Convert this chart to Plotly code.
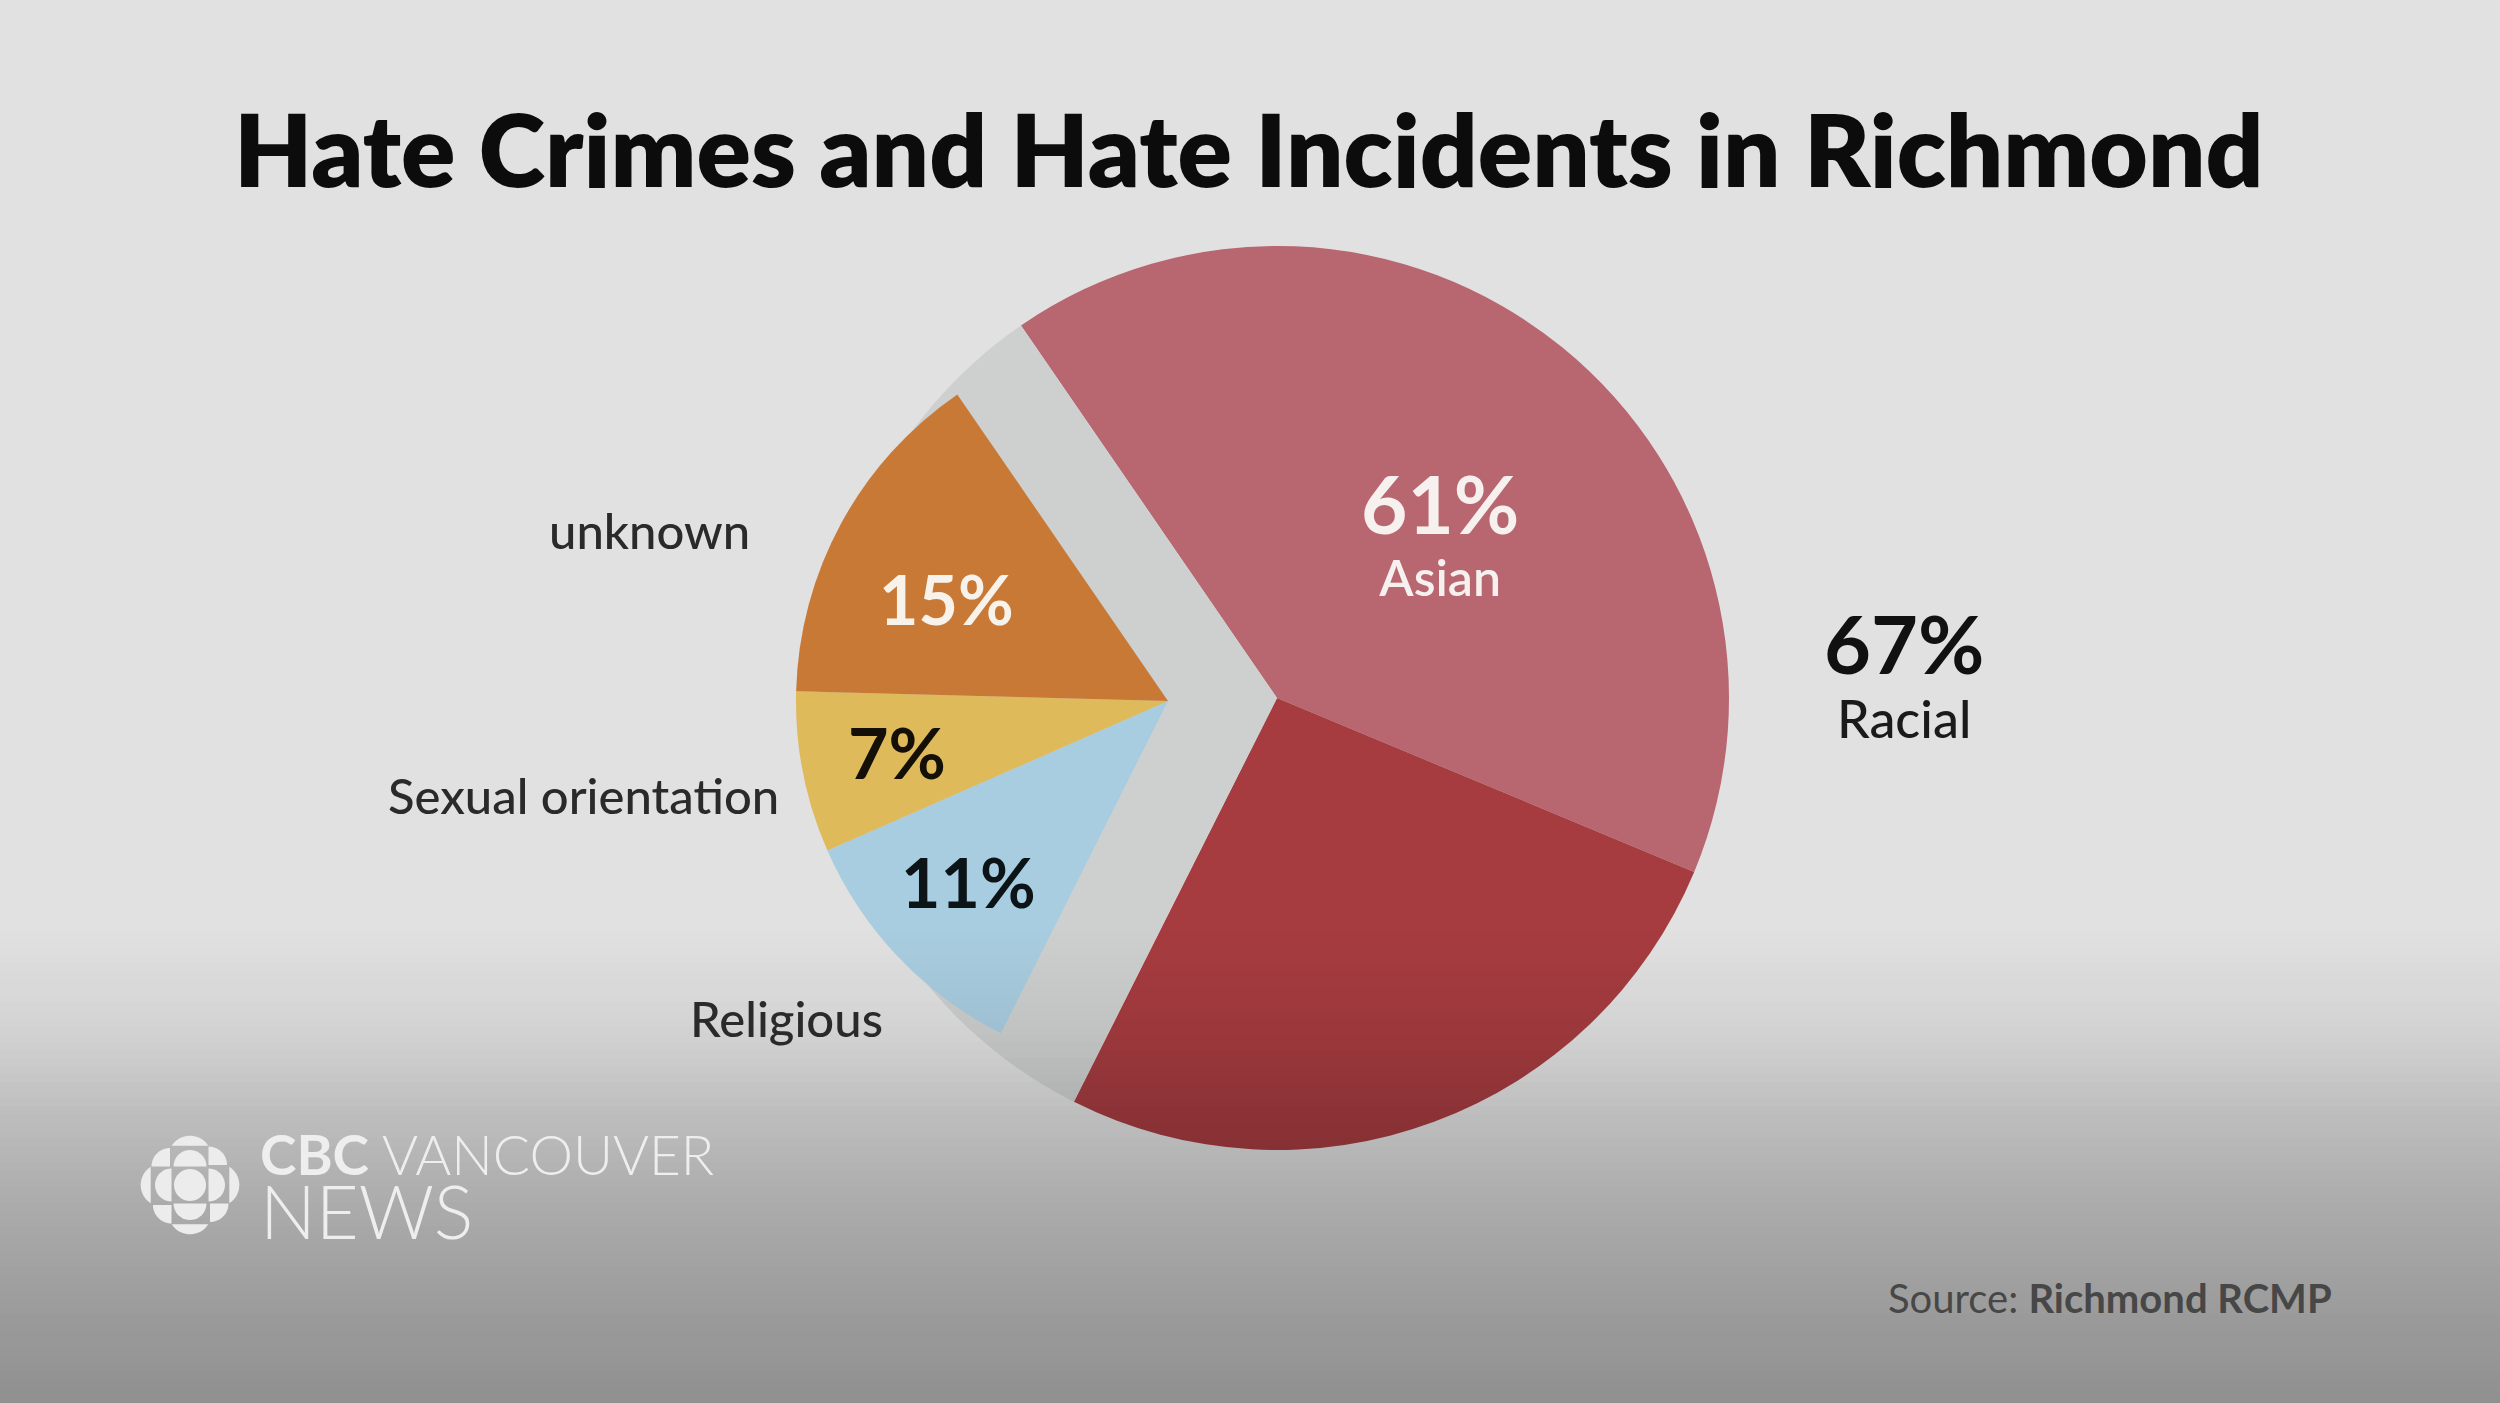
import math
import numpy as np
import plotly.graph_objects as go

W, H = 2500, 1403

title = "Hate Crimes and Hate Incidents in Richmond"
racial_share = 67
asian_share_of_racial = 61
other_labels = ["unknown", "Sexual orientation", "Religious"]
other_values = [15, 7, 11]
source_text = "Source: <b>Richmond RCMP</b>"

# asian is 61% of the racial 67%, the rest of racial is the dark red part
asian_value = racial_share * asian_share_of_racial / 100
other_racial_value = racial_share - asian_value
rest_value = sum(other_values)

PINK = "#b8666f"
DARKRED = "#a63c40"
GRAY = "#cdd0cf"
other_colors = ["#c97936", "#dfba5b", "#a9cde0"]


def px(x, y):
    return x / W, 1 - y / H


def pie_domain(cx, cy, r):
    x0, y1 = px(cx - r, cy - r)
    x1, y0 = px(cx + r, cy + r)
    return dict(x=[x0, x1], y=[y0, y1])


fig = go.Figure()

fig.add_trace(go.Pie(
    labels=["Asian", "Racial (other)", "Other"],
    values=[asian_value, other_racial_value, rest_value],
    marker=dict(colors=[PINK, DARKRED, GRAY], line=dict(width=0)),
    sort=False, direction="clockwise", rotation=-34.5,
    textinfo="none", hoverinfo="skip", showlegend=False,
    domain=pie_domain(1277, 698, 452),
))

fig.add_trace(go.Pie(
    labels=["Racial"] + other_labels[::-1],
    values=[racial_share] + other_values[::-1],
    marker=dict(colors=["rgba(0,0,0,0)"] + other_colors[::-1], line=dict(width=0)),
    sort=False, direction="clockwise", rotation=-34.5,
    textinfo="none", hoverinfo="skip", showlegend=False,
    domain=pie_domain(1168, 701, 372),
))

annotations = []


def add_text(text, x, y, size, color="#111111", weight=400, xanchor="center", align="center"):
    ax, ay = px(x, y)
    annotations.append(dict(
        text=text, x=ax, y=ay, xref="paper", yref="paper",
        xanchor=xanchor, yanchor="middle", showarrow=False, align=align,
        font=dict(family="Lato", size=size, color=color, weight=weight),
    ))


add_text(title, 1249, 148, 101, "#0c0c0c", 800)

add_text(other_labels[0], 752, 530, 49, "#2a2a2a", 500, "right")
add_text(other_labels[1], 781, 795, 49, "#2a2a2a", 500, "right")
add_text(other_labels[2], 786, 1018, 49, "#2a2a2a", 500)

add_text(f"<span style='font-size:81px;font-weight:700;color:#111111'>{racial_share}%</span>"
         "<br><span style='font-size:52px'>Racial</span>",
         1904, 671, 49, "#1a1a1a", 500)
add_text(f"<span style='font-size:80px;font-weight:700'>{asian_share_of_racial}%</span>"
         "<br><span style='font-size:50px'>Asian</span>",
         1440, 531, 48, "#f6f1ef", 600)
add_text(f"{other_values[0]}%", 946, 598, 68, "#f8f3ea", 700)
add_text(f"{other_values[1]}%", 897, 752, 70, "#141008", 700)
add_text(f"{other_values[2]}%", 968, 881, 68, "#0c1418", 700)

add_text("<span style='font-size:55px'><b>CBC</b> VANCOUVER</span>"
         "<br><span style='font-size:74px'>NEWS</span>",
         258, 1188, 49, "#eeeeee", 300, "left", "left")
add_text(source_text, 2334, 1298, 40, "#474747", 400, "right")

shapes = []

# video style darkening towards the bottom
stops_y = [930, 1029, 1118, 1208, 1297, 1403]
stops_a = [0.0, 0.06, 0.16, 0.24, 0.30, 0.36]
edges = list(range(930, 1404, 8))
if edges[-1] != 1403:
    edges.append(1403)
for y0, y1 in zip(edges[:-1], edges[1:]):
    a = float(np.interp((y0 + y1) / 2, stops_y, stops_a))
    x0p, y0p = px(0, y0)
    x1p, y1p = px(W, y1)
    shapes.append(dict(type="rect", xref="paper", yref="paper", x0=x0p, x1=x1p,
                       y0=y1p, y1=y0p, fillcolor=f"rgba(0,0,0,{a:.3f})",
                       line=dict(width=0), layer="above"))

# CBC gem
GX, GY = 190, 1185


def arc(cx, cy, r, a0, a1, n=20):
    return [(cx + r * math.cos(math.radians(a0 + (a1 - a0) * i / n)),
             cy + r * math.sin(math.radians(a0 + (a1 - a0) * i / n))) for i in range(n + 1)]


def rot(pts, k):
    out = []
    for x, y in pts:
        for _ in range(k):
            x, y = -y, x
        out.append((x, y))
    return out


def path_of(pts):
    s = ""
    for i, (x, y) in enumerate(pts):
        ax, ay = px(GX + x, GY + y)
        s += ("M" if i == 0 else "L") + f"{ax:.5f},{ay:.5f} "
    return s + "Z"


pieces = [arc(0, 0, 16, 0, 360, 40)]
inner = arc(0, -18.5, 16.5, 180, 360)
corner = [(-20, -18.5)] + arc(-20, -18.5, 18.5, 180, 270)
cap = arc(0, -27.6, 21.7, 212.6, 327.4)
for k in range(4):
    pieces += [rot(inner, k), rot(corner, k), rot(cap, k)]
for p in pieces:
    shapes.append(dict(type="path", xref="paper", yref="paper", path=path_of(p),
                       fillcolor="#ececec", line=dict(width=0), layer="above"))

fig.update_layout(
    width=W, height=H,
    margin=dict(l=0, r=0, t=0, b=0),
    paper_bgcolor="#e1e1e1",
    plot_bgcolor="#e1e1e1",
    annotations=annotations,
    shapes=shapes,
    showlegend=False,
)

fig.write_html("out.html", config={"displayModeBar": False},
               post_script="document.body.style.margin='0px';")
